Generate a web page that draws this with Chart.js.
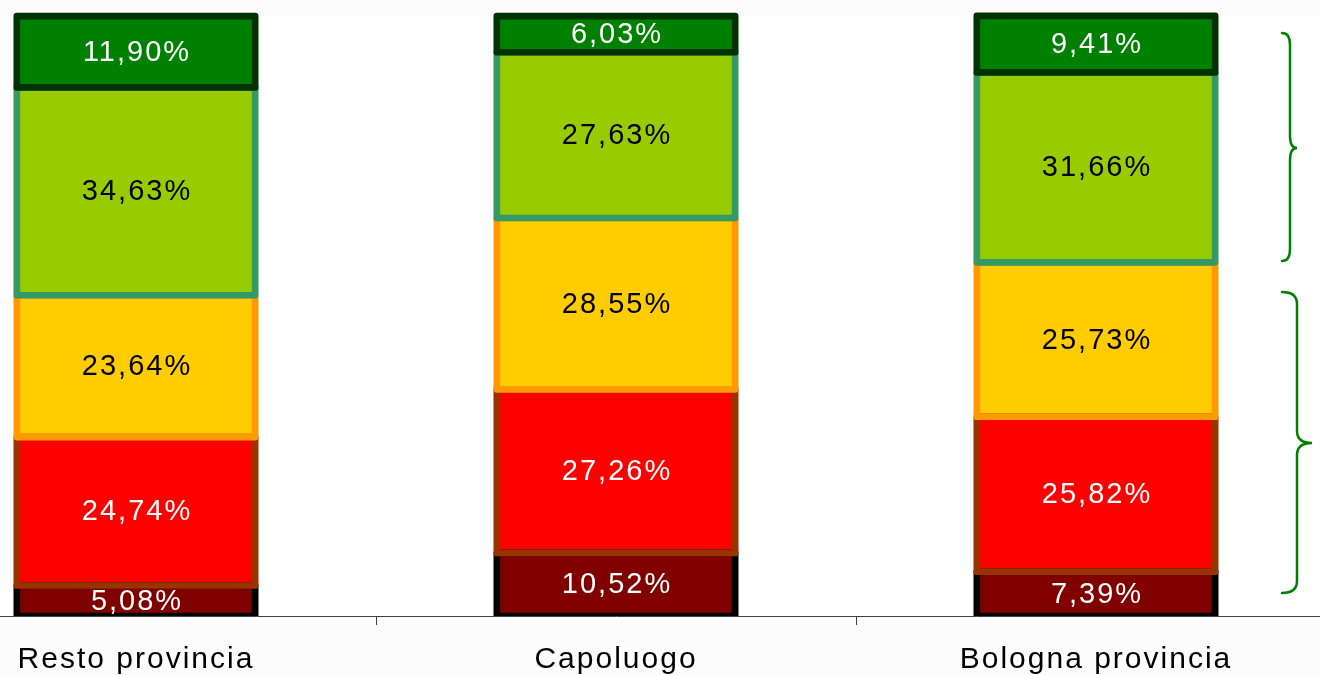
<!DOCTYPE html>
<html>
<head>
<meta charset="utf-8">
<script src="https://cdn.jsdelivr.net/npm/chart.js@4/dist/chart.umd.min.js"></script>
<style>
    html, body { margin: 0; padding: 0; background: #fcfcfc; overflow: hidden; }
    #wrap { position: relative; width: 1320px; height: 675px; overflow: hidden; }
    #chart { position: absolute; left: -104px; top: 0; }
</style>
</head>
<body>
<div id="wrap">
    <canvas id="chart" width="1440" height="675"></canvas>
</div>
<script>
// Categories and series (bottom to top of each stack), values in %
const categories = ['Resto provincia', 'Capoluogo', 'Bologna provincia'];
const darkRedValues = [5.08, 10.52, 7.39];
const redValues = [24.74, 27.26, 25.82];
const yellowValues = [23.64, 28.55, 25.73];
const lightGreenValues = [34.63, 27.63, 31.66];
const greenValues = [11.90, 6.03, 9.41];

const seriesValues = [darkRedValues, redValues, yellowValues, lightGreenValues, greenValues];
const fillColors = ['#800000', '#ff0000', '#ffcc00', '#99cc00', '#008000'];
const edgeColors = ['#000000', '#993300', '#ff9900', '#339966', '#003300'];
const labelColors = ['#ffffff', '#ffffff', '#000000', '#000000', '#ffffff'];

// Background: grey page, white plot area
const backgroundPlugin = {
    id: 'background',
    beforeDraw: (chart) => {
        const ctx = chart.ctx;
        const area = chart.chartArea;
        ctx.save();
        ctx.fillStyle = '#fcfcfc';
        ctx.fillRect(0, 0, chart.width, chart.height);
        ctx.fillStyle = '#ffffff';
        ctx.fillRect(area.left, area.top, area.right - area.left, area.bottom - area.top);
        ctx.restore();
        ctx.letterSpacing = '2px';
    }
};

// Segment borders centred on the edges, then the value labels
const segmentPlugin = {
    id: 'segments',
    afterDatasetsDraw: (chart) => {
        const ctx = chart.ctx;
        const area = chart.chartArea;
        ctx.save();
        ctx.beginPath();
        ctx.rect(area.left, area.top - 4, area.right - area.left, area.bottom - area.top + 4);
        ctx.clip();
        ctx.lineWidth = 6.7;
        ctx.lineJoin = 'round';
        chart.data.datasets.forEach((ds, i) => {
            chart.getDatasetMeta(i).data.forEach(bar => {
                ctx.strokeStyle = edgeColors[i];
                ctx.strokeRect(bar.x - bar.width / 2, bar.y, bar.width, bar.base - bar.y);
            });
        });
        ctx.restore();

        ctx.save();
        ctx.font = '29px "Liberation Sans", Arial, sans-serif';
        ctx.letterSpacing = '2px';
        ctx.textAlign = 'center';
        ctx.textBaseline = 'middle';
        chart.data.datasets.forEach((ds, i) => {
            chart.getDatasetMeta(i).data.forEach((bar, j) => {
                const text = ds.data[j].toFixed(2).replace('.', ',') + '%';
                ctx.fillStyle = labelColors[i];
                ctx.fillText(text, bar.x + 1, (bar.y + bar.base) / 2 + 1);
            });
        });
        ctx.restore();
    }
};

// Curly braces on the right side
const bracePlugin = {
    id: 'braces',
    afterDraw: (chart) => {
        const ctx = chart.ctx;
        const shift = 104;
        const drawBrace = (xEnd, xLine, xTip, yTop, yMid, yBottom) => {
            const r = 12;
            ctx.beginPath();
            ctx.moveTo(xEnd + shift, yTop);
            ctx.quadraticCurveTo(xLine + shift, yTop, xLine + shift, yTop + r);
            ctx.lineTo(xLine + shift, yMid - r);
            ctx.quadraticCurveTo(xLine + shift, yMid, xTip + shift, yMid);
            ctx.quadraticCurveTo(xLine + shift, yMid, xLine + shift, yMid + r);
            ctx.lineTo(xLine + shift, yBottom - r);
            ctx.quadraticCurveTo(xLine + shift, yBottom, xEnd + shift, yBottom);
            ctx.stroke();
        };
        ctx.save();
        ctx.strokeStyle = '#008000';
        ctx.lineWidth = 2.5;
        ctx.lineCap = 'round';
        drawBrace(1282, 1290, 1297, 33, 148, 261);
        drawBrace(1282, 1297, 1312, 292, 443, 593);
        ctx.restore();
    }
};

const ctx = document.getElementById('chart').getContext('2d');
new Chart(ctx, {
    type: 'bar',
    data: {
        labels: categories,
        datasets: seriesValues.map((values, i) => ({
            data: values,
            backgroundColor: fillColors[i],
            borderWidth: 0,
            categoryPercentage: 1,
            barPercentage: 0.4965
        }))
    },
    options: {
        responsive: false,
        animation: false,
        devicePixelRatio: 1,
        layout: { padding: { top: 16, left: 0, right: 0, bottom: 0 } },
        plugins: {
            legend: { display: false },
            tooltip: { enabled: false }
        },
        scales: {
            x: {
                stacked: true,
                afterFit: (scale) => { scale.height = 59; },
                grid: {
                    offset: true,
                    drawOnChartArea: false,
                    drawTicks: true,
                    tickLength: 9,
                    color: '#404040',
                    lineWidth: 1
                },
                border: { display: true, color: '#404040', width: 1 },
                ticks: {
                    color: '#000000',
                    font: { family: '"Liberation Sans", Arial, sans-serif', size: 30 },
                    padding: 17,
                    maxRotation: 0
                }
            },
            y: {
                stacked: true,
                display: false,
                min: 0,
                max: 100
            }
        }
    },
    plugins: [backgroundPlugin, segmentPlugin, bracePlugin]
});
</script>
</body>
</html>
